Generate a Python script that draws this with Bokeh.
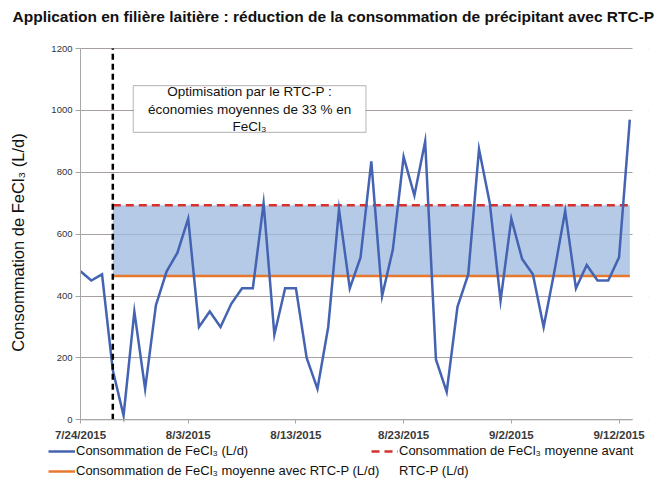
from bokeh.plotting import figure
from bokeh.layouts import column
from bokeh.models import (FixedTicker, BoxAnnotation, Label, Legend, LegendItem, Title)
from bokeh.embed import file_html
from bokeh.resources import INLINE

# ---- data ----
dates = ["7/24", "7/25", "7/26", "7/27", "7/28", "7/29", "7/30", "7/31",
         "8/1", "8/2", "8/3", "8/4", "8/5", "8/6", "8/7", "8/8", "8/9", "8/10",
         "8/11", "8/12", "8/13", "8/14", "8/15", "8/16", "8/17", "8/18", "8/19",
         "8/20", "8/21", "8/22", "8/23", "8/24", "8/25", "8/26", "8/27", "8/28",
         "8/29", "8/30", "8/31", "9/1", "9/2", "9/3", "9/4", "9/5", "9/6", "9/7",
         "9/8", "9/9", "9/10", "9/11", "9/12", "9/13"]
fecl3 = [480, 450, 470, 160, 14, 350, 100, 370, 480, 540, 650, 300, 350, 300,
         375, 425, 425, 700, 275, 425, 425, 200, 100, 300, 680, 425, 525, 835,
         400, 550, 850, 725, 900, 195, 90, 365, 470, 875, 700, 385, 650, 520,
         470, 300, 480, 675, 425, 500, 450, 450, 525, 970]
avg_before = 693
avg_after = 465
rtc_start = "7/27"
tick_dates = ["7/24", "8/3", "8/13", "8/23", "9/2", "9/12"]
tick_labels = ["7/24/2015", "8/3/2015", "8/13/2015", "8/23/2015", "9/2/2015", "9/12/2015"]
y_ticks = [0, 200, 400, 600, 800, 1000, 1200]

x = list(range(len(dates)))
x_start = dates.index(rtc_start)
x_end = x[-1]
tick_pos = [dates.index(d) for d in tick_dates]

FONT = "Liberation Sans"
BLUE, RED, ORANGE = "#4463b2", "#d8302c", "#e9782f"
AXIS_GREY = "#a6a6a6"

# frame: x 48..648 px, y 40..444 px ; value axis at x=80 px, 0 at y=419.3 px, 1200 at y=48 px
X_AXIS_END = 51.25                      # plot area ends at x = 632 px
PX_PER_DAY = 552 / X_AXIS_END
X0 = -32 / PX_PER_DAY
X1 = X0 + 600 / PX_PER_DAY
PX_PER_UNIT = 371.3 / 1200
Y1 = 1200 + 8 / PX_PER_UNIT
Y0 = -(444 - 419.3) / PX_PER_UNIT

p = figure(width=665, height=444, output_backend="svg", toolbar_location=None,
           x_range=(X0, X1), y_range=(Y0, Y1),
           min_border_left=48, min_border_right=17, min_border_top=40, min_border_bottom=0)

p.title.text = "Application en filière laitière : réduction de la consommation de précipitant avec RTC-P"
p.title.text_font = FONT
p.title.text_font_size = "15.5px"
p.title.text_font_style = "bold"
p.title.text_color = "#111111"
p.title.align = "left"
p.title.offset = -36
p.title.standoff = 0
# spacer between title and frame
p.add_layout(Title(text=" ", text_font_size="1px", standoff=13), "above")

# value-axis title in the left panel (spacer first = closest to the frame)
p.add_layout(Title(text=" ", text_font_size="1px", standoff=19), "left")
p.add_layout(Title(text="Consommation de FeCl₃ (L/d)", text_font=FONT, text_font_size="16.5px",
                   text_font_style="normal", text_color="#111111", align="center", standoff=0), "left")

p.outline_line_color = None
p.xgrid.grid_line_color = None
p.ygrid.ticker = FixedTicker(ticks=y_ticks)
p.ygrid.grid_line_color = "#a8a09d"
p.ygrid.grid_line_width = 1
# keep grid lines inside the plot area (between the value axis and the plot end)
p.add_layout(BoxAnnotation(right=0, fill_color="white", fill_alpha=1, line_color=None,
                           level="underlay"))
p.add_layout(BoxAnnotation(left=X_AXIS_END, fill_color="white", fill_alpha=1, line_color=None,
                           level="underlay"))

p.yaxis.fixed_location = 0
p.yaxis.bounds = (y_ticks[0], y_ticks[-1])
p.yaxis.ticker = FixedTicker(ticks=y_ticks)
p.yaxis.axis_line_color = AXIS_GREY
p.yaxis.major_tick_line_color = AXIS_GREY
p.yaxis.major_tick_out = 5
p.yaxis.major_tick_in = 0
p.yaxis.minor_tick_line_color = None
p.yaxis.major_label_standoff = 3
p.yaxis.major_label_text_font = FONT
p.yaxis.major_label_text_font_size = "9.5px"
p.yaxis.major_label_text_color = "#333333"

p.xaxis.fixed_location = 0
p.xaxis.bounds = (0, X_AXIS_END)
p.xaxis.ticker = FixedTicker(ticks=tick_pos)
p.xaxis.major_label_overrides = {t: l for t, l in zip(tick_pos, tick_labels)}
p.xaxis.axis_line_color = AXIS_GREY
p.xaxis.major_tick_line_color = AXIS_GREY
p.xaxis.major_tick_out = 4
p.xaxis.major_tick_in = 0
p.xaxis.minor_tick_line_color = None
p.xaxis.major_label_text_font = FONT
p.xaxis.major_label_text_font_size = "11.5px"
p.xaxis.major_label_text_font_style = "bold"
p.xaxis.major_label_text_color = "#3a3a3a"
p.xaxis.major_label_standoff = 5

# axis rules
p.segment(x0=[0, 0], y0=[y_ticks[0], y_ticks[0]], x1=[0, X_AXIS_END], y1=[y_ticks[-1], y_ticks[0]],
          line_color=AXIS_GREY, line_width=1)

# band between averages
p.varea(x=[x_start, x_end], y1=[avg_after, avg_after], y2=[avg_before, avg_before],
        fill_color="#9fbbe0", fill_alpha=0.78)

p.line([x_start, x_end], [avg_before, avg_before], line_color=RED, line_width=2.5, line_dash="8 5")
p.line([x_start, x_end], [avg_after, avg_after], line_color=ORANGE, line_width=2.5)
p.line(x, fecl3, line_color=BLUE, line_width=2.5, line_join="miter")

# start of RTC-P
p.line([x_start, x_start], [y_ticks[0], y_ticks[-1]], line_color="black",
       line_width=2.5, line_dash="6 4")

# annotation box
p.add_layout(BoxAnnotation(left=4.9, right=26.5, bottom=929, top=1080,
                           fill_color="white", fill_alpha=1,
                           line_color="#333333", line_width=1.2))
p.add_layout(Label(x=15.7, y=1004, text="Optimisation par le RTC-P :\néconomies moyennes de 33 % en\nFeCl₃",
                   text_align="center", text_baseline="middle", text_font=FONT,
                   text_font_size="13.5px", text_color="#111111", text_line_height=1.15))

# ---- legend strip (frame aligned with the chart frame, x 48..648 px) ----
lf = figure(width=665, height=34, output_backend="svg", toolbar_location=None,
            x_range=(0, 1), y_range=(0, 1), x_axis_location=None, y_axis_location=None,
            min_border_left=0, min_border_right=0, min_border_top=0, min_border_bottom=0)
lf.grid.visible = False
lf.outline_line_color = None
g_main = lf.line([-2, -1], [-2, -2], line_color=BLUE, line_width=2.5)
g_after = lf.line([-2, -1], [-2, -2], line_color=ORANGE, line_width=2.5)
g_before = lf.line([-2, -1], [-2, -2], line_color=RED, line_width=2.5, line_dash="8 5")

leg1 = Legend(items=[LegendItem(label="Consommation de FeCl₃ (L/d)", renderers=[g_main]),
                     LegendItem(label="Consommation de FeCl₃ moyenne avec RTC-P (L/d)", renderers=[g_after])],
              location=(0, 0))
leg2 = Legend(items=[LegendItem(label="Consommation de FeCl₃ moyenne avant", renderers=[g_before]),
                     LegendItem(label="RTC-P (L/d)", renderers=[])],
              location=(323, 0))
for lg in (leg1, leg2):
    lg.orientation = "vertical"
    lg.padding = 0
    lg.margin = 0
    lg.spacing = 5
    lg.border_line_color = None
    lg.background_fill_alpha = 0
    lg.glyph_width = 27
    lg.glyph_height = 14
    lg.label_standoff = 1
    lg.label_height = 14
    lg.label_text_font = FONT
    lg.label_text_font_size = "13px"
    lg.label_text_color = "#111111"
    lf.add_layout(lg)

open("out.html", "w").write(file_html(column(p, lf, spacing=0), INLINE))
